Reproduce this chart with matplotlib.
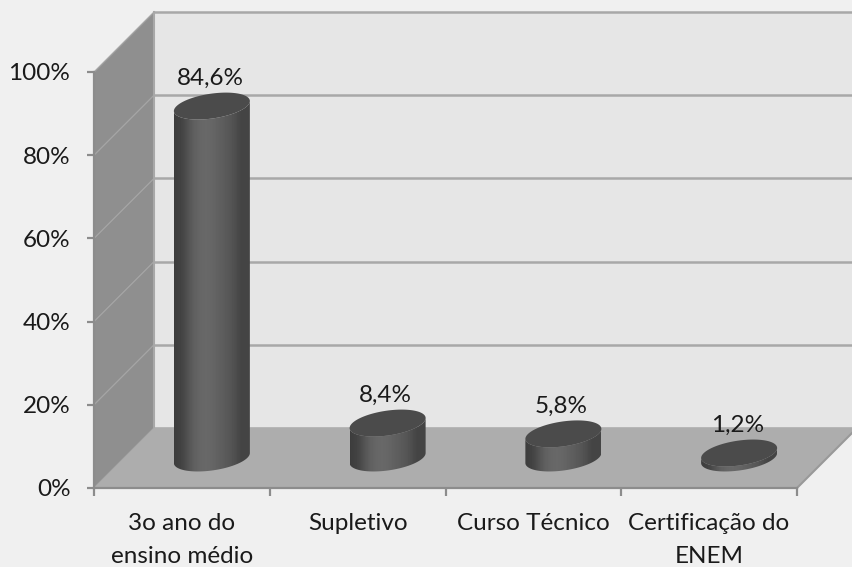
import numpy as np
import matplotlib
matplotlib.use("Agg")
import matplotlib.pyplot as plt
from matplotlib.patches import Polygon

categorias = ["3o ano do\nensino médio", "Supletivo", "Curso Técnico", "Certificação do\nENEM"]
valores = [84.6, 8.4, 5.8, 1.2]
rotulos = ["84,6%", "8,4%", "5,8%", "1,2%"]
ticks_y = [0, 20, 40, 60, 80, 100]
ticks_y_txt = ["0%", "20%", "40%", "60%", "80%", "100%"]

plt.rcParams["font.family"] = ["Lato", "DejaVu Sans"]

fig = plt.figure(figsize=(8.52, 5.67), dpi=100, facecolor="#f0f0f0")
ax = fig.add_axes([94 / 852, (567 - 488) / 567, 703 / 852, 416 / 567])
ax.set_xlim(0, 4)
ax.set_ylim(0, 100)
ax.patch.set_visible(False)

# escala: pixels para unidades do eixo
ux = 703 / 4
uy = 416 / 100
dx = 60 / ux
dy = 60 / uy

# parede do fundo, parede lateral e chao
ax.add_patch(Polygon([(dx, dy), (4 + dx, dy), (4 + dx, 100 + dy), (dx, 100 + dy)],
                     fc="#e6e6e6", ec="none", clip_on=False, zorder=1))
ax.add_patch(Polygon([(0, 0), (dx, dy), (dx, 100 + dy), (0, 100)],
                     fc="#8f8f8f", ec="none", clip_on=False, zorder=1))
ax.add_patch(Polygon([(0, 0), (4, 0), (4 + dx, dy), (dx, dy)],
                     fc="#adadad", ec="none", clip_on=False, zorder=2))

for t in ticks_y:
    ax.plot([dx, 4 + dx], [t + dy, t + dy], color="#a8a8a8", lw=1.8, clip_on=False, zorder=1.5)
    ax.plot([0, dx], [t, t + dy], color="#a6a6a6", lw=0.9, clip_on=False, zorder=1.5)
ax.plot([dx, dx], [dy, 100 + dy], color="#a8a8a8", lw=1.5, clip_on=False, zorder=1.5)
ax.plot([4, 4 + dx], [0, dy], color="#999999", lw=1.5, clip_on=False, zorder=2.5)

# cilindros
faixa = np.array([[0.24, 0.27, 0.33, 0.38, 0.40, 0.41, 0.40, 0.38, 0.36, 0.34, 0.31, 0.26, 0.27]])
a = 38 / ux
b = 12.5 / uy
s = 5 / uy
t = np.linspace(0, 2 * np.pi, 200)
base = 30 / uy
for i, v in enumerate(valores):
    cx = i + 0.5 + 30 / ux
    topo = base + v
    xe = cx + a * np.cos(t)
    # lado esquerdo mais baixo, lado direito mais alto
    ye = s * np.cos(t) + b * np.sin(t)
    high = np.linspace(np.pi, 2 * np.pi, 100)
    corpo = list(zip(cx + a * np.cos(high), topo + s * np.cos(high) + b * np.sin(high))) + \
        list(zip(cx + a * np.cos(high[::-1]), base + s * np.cos(high[::-1]) + b * np.sin(high[::-1])))
    im = ax.imshow(faixa, extent=[cx - a, cx + a, 0, 100 + dy], cmap="gray", vmin=0, vmax=1,
                   aspect="auto", interpolation="bicubic", zorder=3, clip_on=True)
    forma = Polygon(corpo, closed=True, transform=ax.transData, fc="none", ec="none", zorder=3)
    ax.add_patch(forma)
    im.set_clip_path(forma)
    ax.fill(xe, topo + ye, color="#4b4b4b", lw=0, zorder=4, clip_on=False)
    ax.text(cx - 2 / ux, topo + 28 / uy, rotulos[i], ha="center", va="center",
            fontsize=17.5, color="#1a1a1a", zorder=5, clip_on=False)

ax.set_xlim(0, 4)
ax.set_ylim(0, 100)

# eixos
for lado in ["top", "right"]:
    ax.spines[lado].set_visible(False)
for lado in ["left", "bottom"]:
    ax.spines[lado].set_color("#8c8c8c")
    ax.spines[lado].set_linewidth(1.6)
    ax.spines[lado].set_zorder(6)

ax.set_yticks(ticks_y)
ax.set_yticklabels(ticks_y_txt, fontsize=17.5, color="#1a1a1a")
ax.tick_params(axis="y", length=5, width=1.6, color="#8c8c8c", pad=12)
ax.set_xticks([0, 1, 2, 3, 4])
ax.set_xticklabels([])
ax.tick_params(axis="x", length=6, width=1.6, color="#8c8c8c")
ax.set_xticks([0.5, 1.5, 2.5, 3.5], minor=True)
ax.set_xticklabels(categorias, minor=True, fontsize=17.5, color="#1a1a1a", linespacing=1.72)
ax.tick_params(axis="x", which="minor", length=0, pad=18)

fig.savefig("out.png", dpi=100, facecolor=fig.get_facecolor())
